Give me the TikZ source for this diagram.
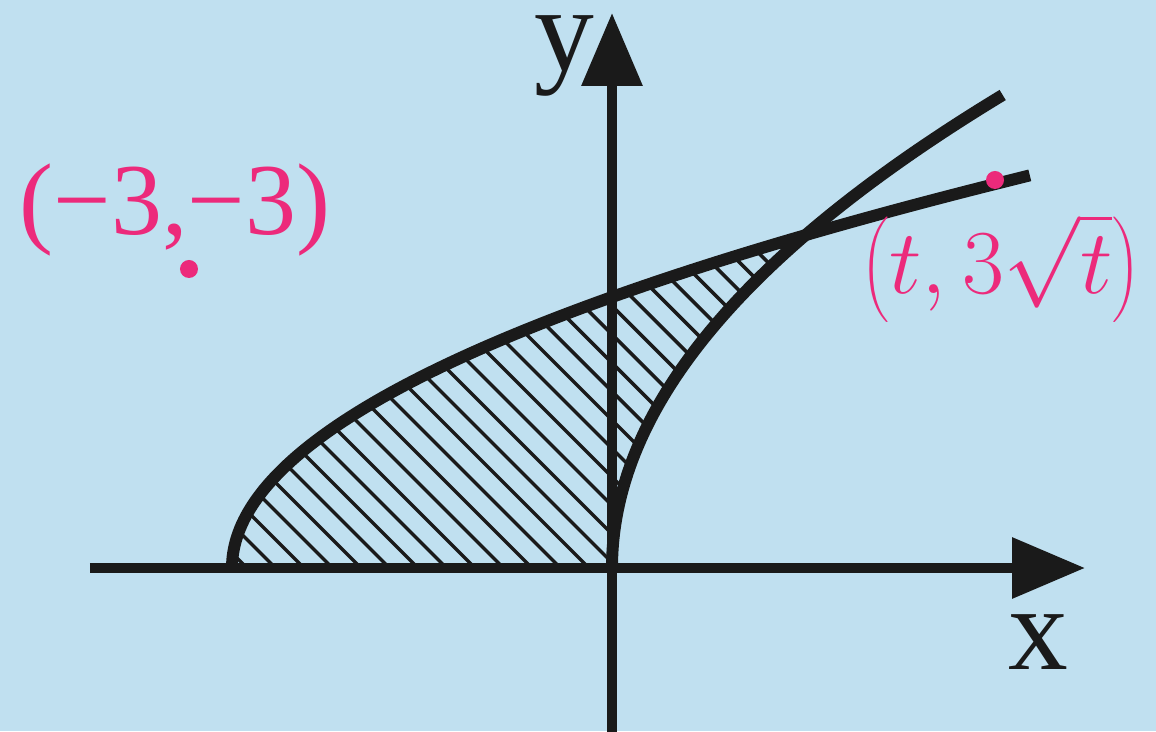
\documentclass[tikz,border=0pt]{standalone}
\usepackage{fix-cm}
\usepackage{fontspec}
\newfontfamily\axisfont{Liberation Serif}
\usetikzlibrary{arrows.meta}
\definecolor{bgblue}{RGB}{192,224,240}
\definecolor{ptpink}{RGB}{236,42,123}
\definecolor{ink}{RGB}{26,26,26}

\begin{document}
\begin{tikzpicture}[
    axis/.style = {
        ink,
        line width=2.8pt,
        -{Triangle[length=0.73cm, width=0.59cm]}
    },
    curve/.style = {ink, line width=3.4pt},
    hatch/.style = {ink, line width=1pt},
    axislabel/.style = {font=\fontsize{34}{34}\axisfont, text=ink, inner sep=0pt},
    ptlabel/.style = {text=ptpink, inner sep=0pt},
    ptdot/.style = {circle, fill=ptpink, minimum size=0.18cm, inner sep=0pt}
]

% background and page size
\fill[bgblue] (-6.12,-1.63) rectangle (5.44,5.68);
\useasboundingbox (-6.12,-1.63) rectangle (5.44,5.68);

% shaded region between the two curves
\begin{scope}
    \clip plot[domain=0:3.329, samples=80] ({\x*\x/1.9321-3.8},\x)
        -- plot[domain=3.329:0, samples=80] ({\x*\x/5.7264},\x) -- cycle;
    \foreach \k in {-8,...,26}
        \draw[hatch] ({-1.94+0.285*\k+1},-1) -- ({-1.94+0.285*\k-6},6);
\end{scope}

% axes
\coordinate (xstart) at (-5.22,0);
\coordinate (xend) at (4.73,0);
\coordinate (ystart) at (0,-1.7);
\coordinate (yend) at (0,5.55);
\draw[axis] (xstart) -- (xend);
\draw[axis] (ystart) -- (yend);

% curves
\draw[curve] plot[domain=0:3.927, samples=100] ({\x*\x/1.9321-3.8},\x);
\draw[curve] plot[domain=0:4.731, samples=100] ({\x*\x/5.7264},\x);

\node[axislabel] (ylabel) at (-0.48,5.12) {y};
\node[axislabel] (xlabel) at (4.26,-0.74) {x};

% points
\node[ptdot] (ptA) at (-4.23,2.99) {};
\node[ptlabel, font=\fontsize{29}{29}\axisfont] (ptAlabel) at (-4.37,3.58) {(−3,−3)};
\node[ptdot] (ptB) at (3.83,3.88) {};
\node[ptlabel, font=\fontsize{26}{26}\selectfont] (ptBlabel) at (3.89,3.0) {$\left(t,3\sqrt{t}\right)$};

\end{tikzpicture}
\end{document}
